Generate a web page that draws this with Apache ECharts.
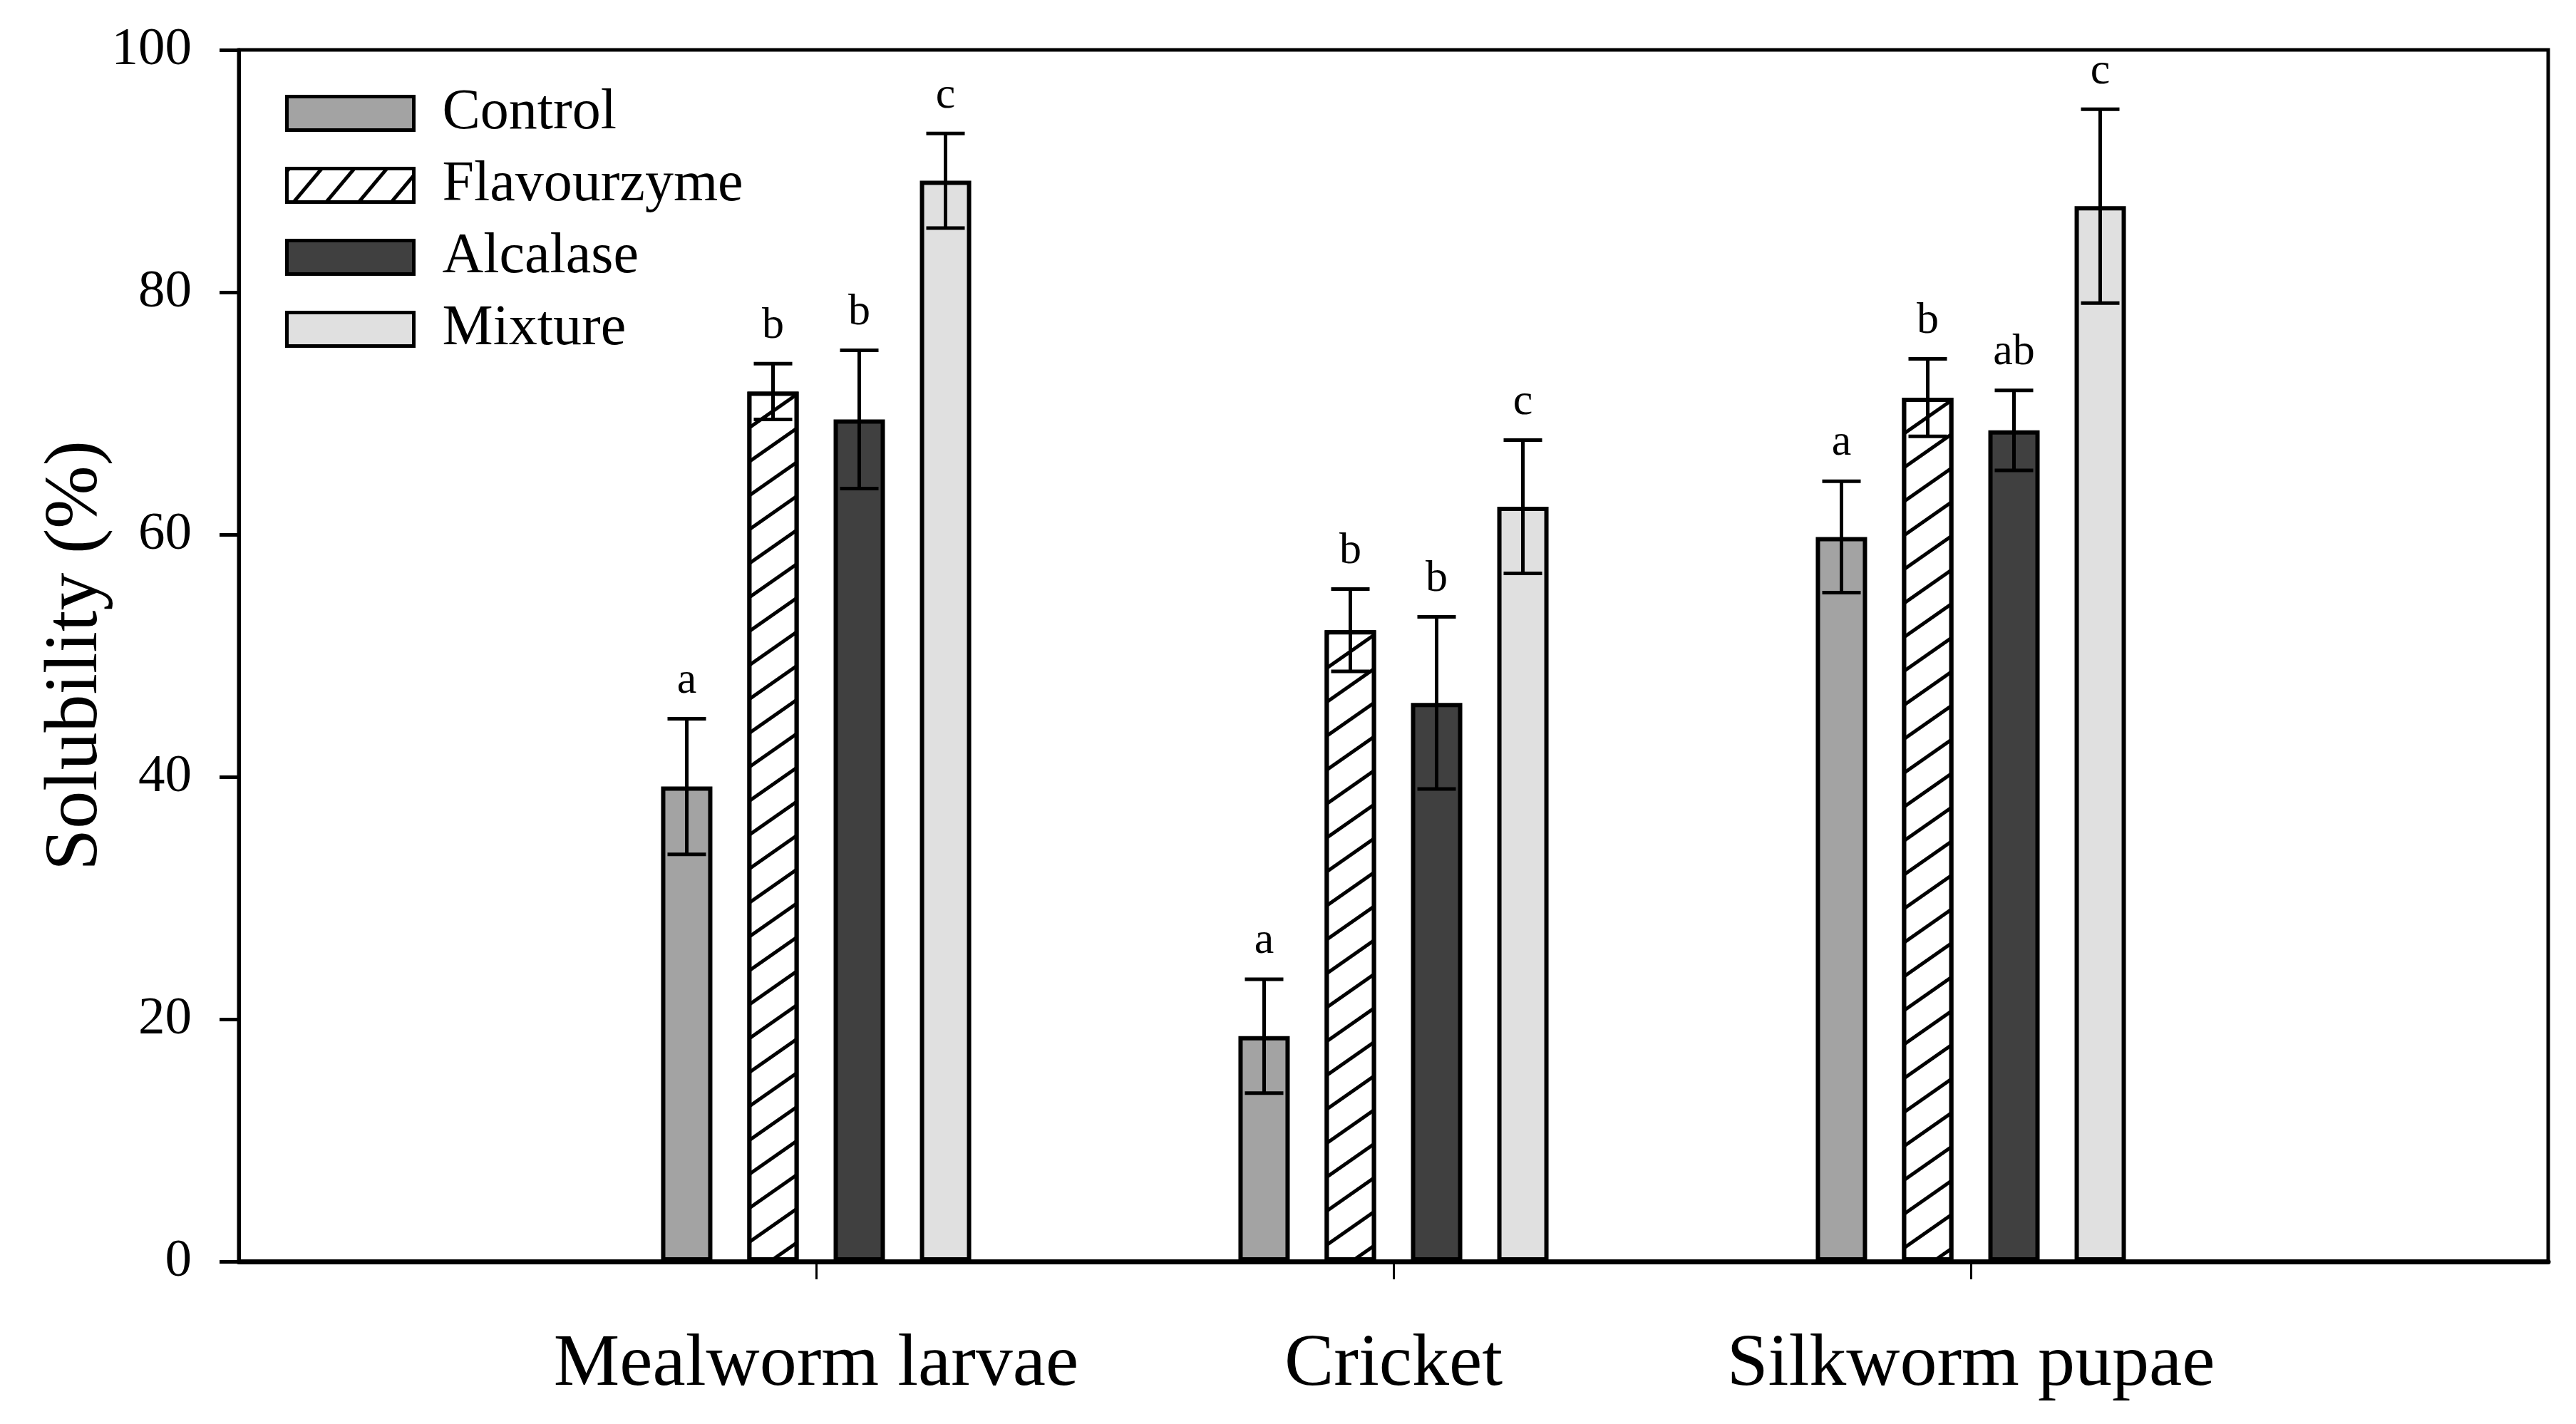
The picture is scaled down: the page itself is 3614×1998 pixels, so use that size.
<!DOCTYPE html>
<html><head><meta charset="utf-8">
<script src="https://cdn.jsdelivr.net/npm/echarts@6/dist/echarts.min.js"></script>
<style>html,body{margin:0;padding:0;background:#fff}#c{width:3614px;height:1998px}</style>
</head><body><div id="c"></div>
<script>
const categories = ['Mealworm larvae', 'Cricket', 'Silkworm pupae'];
const seriesNames = ['Control', 'Flavourzyme', 'Alcalase', 'Mixture'];
const controlValues = [39.2, 18.6, 59.8];
const flavourzymeValues = [71.8, 52.1, 71.3];
const alcalaseValues = [69.5, 46.1, 68.6];
const mixtureValues = [89.2, 62.3, 87.1];
const controlErrors = [5.6, 4.7, 4.6];
const flavourzymeErrors = [2.3, 3.4, 3.2];
const alcalaseErrors = [5.7, 7.1, 3.3];
const mixtureErrors = [3.9, 5.5, 8.0];
const controlLetters = ['a', 'a', 'a'];
const flavourzymeLetters = ['b', 'b', 'b'];
const alcalaseLetters = ['b', 'b', 'ab'];
const mixtureLetters = ['c', 'c', 'c'];
const yTickValues = [0, 20, 40, 60, 80, 100];

const FONT = 'Liberation Serif';
const BAR_W = 72;
const BAR_GAP_PX = 49;
const BAR_STEP = BAR_W + BAR_GAP_PX;
const colors = ['#a3a3a3', '#ffffff', '#404040', '#e0e0e0'];

const hatchBar = {
  symbol: 'rect', symbolSize: 1,
  dashArrayX: [1, 0], dashArrayY: [5, 34],
  rotation: -35 * Math.PI / 180,
  color: '#000', backgroundColor: '#fff'
};
const hatchLegend = {
  symbol: 'rect', symbolSize: 1,
  dashArrayX: [1, 0], dashArrayY: [5, 30],
  rotation: -50 * Math.PI / 180,
  color: '#000', backgroundColor: '#fff'
};

const axisData = [''].concat(categories, ['']);
const pad = arr => [null].concat(arr, [null]);

const valuesList = [controlValues, flavourzymeValues, alcalaseValues, mixtureValues];
const errorsList = [controlErrors, flavourzymeErrors, alcalaseErrors, mixtureErrors];
const lettersList = [controlLetters, flavourzymeLetters, alcalaseLetters, mixtureLetters];

const barSeries = seriesNames.map((name, k) => ({
  type: 'bar', name: name,
  data: pad(valuesList[k]),
  barWidth: BAR_W,
  barGap: (BAR_GAP_PX / BAR_W * 100).toFixed(1) + '%',
  itemStyle: Object.assign({
    color: colors[k], borderColor: '#000', borderWidth: 6
  }, k === 1 ? { decal: hatchBar } : {}),
  z: 2,
  silent: true
}));

function makeErrorSeries(k) {
  const values = valuesList[k], errors = errorsList[k], letters = lettersList[k];
  return {
    type: 'custom', name: seriesNames[k] + ' err', z: 5, silent: true,
    data: values.map((v, i) => [i + 1, v, errors[i]]),
    encode: { x: 0, y: 1 },
    renderItem: function (params, api) {
      const x = api.value(0), v = api.value(1), e = api.value(2);
      const top = api.coord([x, v + e]);
      const bot = api.coord([x, v - e]);
      const cx = top[0] + (k - 1.5) * BAR_STEP;
      const half = 27;
      const ls = { stroke: '#000', lineWidth: 5 };
      return {
        type: 'group',
        children: [
          { type: 'line', shape: { x1: cx, y1: top[1], x2: cx, y2: bot[1] }, style: ls },
          { type: 'line', shape: { x1: cx - half, y1: top[1], x2: cx + half, y2: top[1] }, style: ls },
          { type: 'line', shape: { x1: cx - half, y1: bot[1], x2: cx + half, y2: bot[1] }, style: ls },
          { type: 'text', x: cx, y: top[1] - 22,
            style: { text: letters[params.dataIndex], fill: '#000',
              font: '62px "' + FONT + '"', align: 'center', verticalAlign: 'bottom' } }
        ]
      };
    }
  };
}

const chart = echarts.init(document.getElementById('c'), null, { renderer: 'canvas' });
chart.setOption({
  backgroundColor: '#fff',
  animation: false,
  grid: {
    left: 335, right: 39, top: 70, bottom: 228,
    show: true, borderColor: '#000', borderWidth: 5, backgroundColor: 'transparent',
    containLabel: false, outerBoundsMode: 'none'
  },
  legend: {
    orient: 'vertical', left: 400, top: 119, padding: 0,
    icon: 'rect', itemWidth: 178, itemHeight: 47, itemGap: 21,
    selectedMode: false,
    itemStyle: { borderColor: '#000', borderWidth: 5 },
    textStyle: { fontFamily: FONT, fontSize: 80, color: '#000', padding: [0, 0, 0, 35] },
    data: seriesNames.map((n, k) => k === 1 ? { name: n, itemStyle: { decal: hatchLegend } } : { name: n })
  },
  xAxis: {
    type: 'category', data: axisData, boundaryGap: false,
    axisLine: { show: true, lineStyle: { color: '#000', width: 7 } },
    axisTick: { show: true, inside: false, length: 25, lineStyle: { color: '#000', width: 3 },
      interval: function (i) { return i >= 1 && i <= categories.length; } },
    axisLabel: { fontFamily: FONT, fontSize: 104, color: '#000', margin: 94, interval: 0 },
    splitLine: { show: false }
  },
  yAxis: {
    type: 'value', min: yTickValues[0], max: yTickValues[yTickValues.length - 1], interval: 20,
    name: 'Solubility (%)', nameLocation: 'middle', nameRotate: 90, nameGap: 175,
    nameMoveOverlap: false,
    nameTextStyle: { fontFamily: FONT, fontSize: 106, color: '#000' },
    axisLine: { show: true, lineStyle: { color: '#000', width: 5 } },
    axisTick: { show: true, inside: false, length: 27, lineStyle: { color: '#000', width: 5 } },
    axisLabel: { fontFamily: FONT, fontSize: 75, color: '#000', margin: 66 },
    splitLine: { show: false }
  },
  series: barSeries.concat(seriesNames.map((n, k) => makeErrorSeries(k)))
});
</script>
</body></html>
